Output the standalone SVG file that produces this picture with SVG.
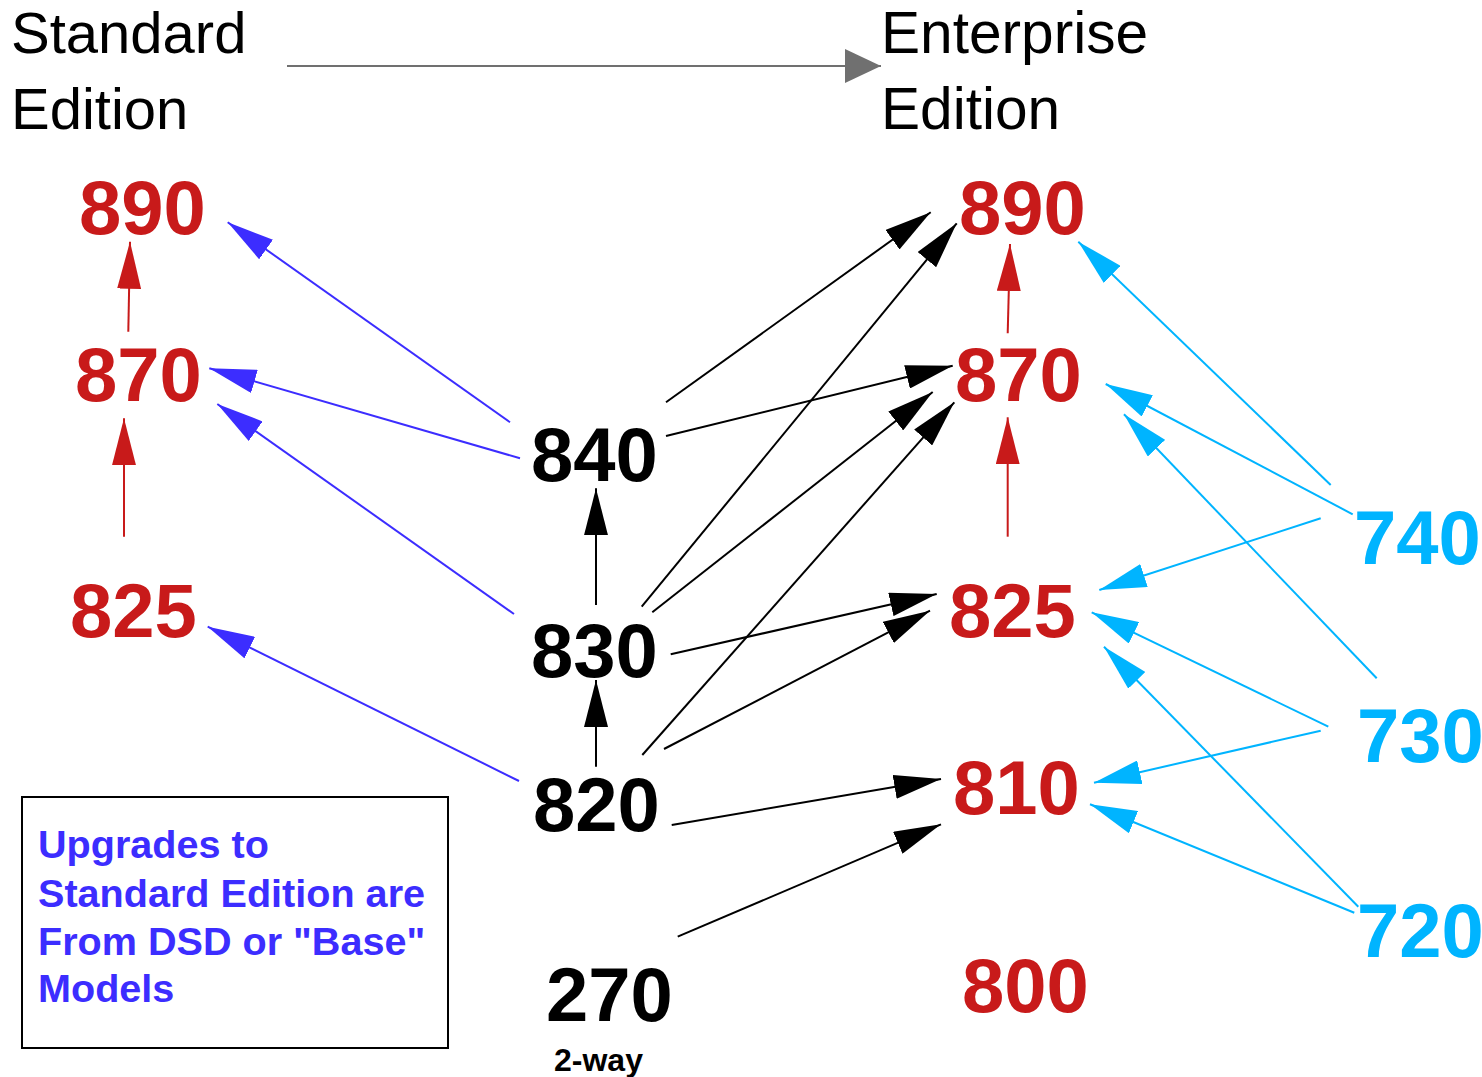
<svg xmlns="http://www.w3.org/2000/svg" width="1482" height="1077" viewBox="0 0 1482 1077">
<style>
.hdr{font-family:"Liberation Sans",Arial,sans-serif;font-size:58px;fill:#000}
.hdr2{font-family:"Liberation Sans",Arial,sans-serif;font-size:58.6px;fill:#000}
.num{font-family:"Liberation Sans",Arial,sans-serif;font-weight:bold;font-size:76px}
.red{fill:#c81a1a}
.blk{fill:#000}
.cyn{fill:#00b4ff}
.note{font-family:"Liberation Sans",Arial,sans-serif;font-weight:bold;font-size:39.6px;fill:#3c2dff}
.small{font-family:"Liberation Sans",Arial,sans-serif;font-weight:bold;font-size:32px;fill:#000}
.ck{stroke:#000;stroke-width:2;fill:none;marker-end:url(#ak)}
.cb{stroke:#3c2dff;stroke-width:2;fill:none;marker-end:url(#ab)}
.cr{stroke:#c81a1a;stroke-width:2;fill:none;marker-end:url(#ar)}
.cc{stroke:#00b4ff;stroke-width:2;fill:none;marker-end:url(#ac)}
.cg{stroke:#707070;stroke-width:2;fill:none;marker-end:url(#ag)}
</style>
<defs>
<marker id="ak" markerUnits="userSpaceOnUse" viewBox="0 0 48 24" markerWidth="48" markerHeight="24" refX="47" refY="12" orient="auto"><path d="M0,0 L47,12 L0,24 z" fill="#000"/></marker>
<marker id="ab" markerUnits="userSpaceOnUse" viewBox="0 0 48 24" markerWidth="48" markerHeight="24" refX="47" refY="12" orient="auto"><path d="M0,0 L47,12 L0,24 z" fill="#3c2dff"/></marker>
<marker id="ar" markerUnits="userSpaceOnUse" viewBox="0 0 48 24" markerWidth="48" markerHeight="24" refX="47" refY="12" orient="auto"><path d="M0,0 L47,12 L0,24 z" fill="#c81a1a"/></marker>
<marker id="ac" markerUnits="userSpaceOnUse" viewBox="0 0 48 24" markerWidth="48" markerHeight="24" refX="47" refY="12" orient="auto"><path d="M0,0 L47,12 L0,24 z" fill="#00b4ff"/></marker>
<marker id="ag" markerUnits="userSpaceOnUse" viewBox="0 0 36 34" markerWidth="36" markerHeight="34" refX="36" refY="17" orient="auto"><path d="M0,0 L36,17 L0,34 z" fill="#707070"/></marker>
</defs>
<rect width="1482" height="1077" fill="#fff"/>

<g id="connectors">
<line class="cg" x1="287" y1="66" x2="881" y2="66"/>
<line class="cr" x1="128.3" y1="331.7" x2="130" y2="241.7"/>
<line class="cr" x1="124" y1="536.7" x2="124" y2="418.3"/>
<line class="cb" x1="510" y1="422.3" x2="227.7" y2="222.3"/>
<line class="cb" x1="520" y1="458.3" x2="209.3" y2="368.3"/>
<line class="cb" x1="514" y1="614" x2="217.3" y2="404"/>
<line class="cb" x1="519" y1="781" x2="207.7" y2="626.7"/>
<line class="ck" x1="596" y1="605" x2="596" y2="488.3"/>
<line class="ck" x1="596" y1="766.7" x2="596" y2="680"/>
<line class="ck" x1="666" y1="402.3" x2="930.7" y2="212.3"/>
<line class="ck" x1="641.7" y1="606.7" x2="956.7" y2="223.3"/>
<line class="ck" x1="666" y1="436" x2="952.7" y2="365.7"/>
<line class="ck" x1="652.3" y1="612.3" x2="932.7" y2="392"/>
<line class="ck" x1="642.3" y1="755" x2="954.3" y2="402.3"/>
<line class="ck" x1="670.7" y1="654.3" x2="936.7" y2="594"/>
<line class="ck" x1="664" y1="749" x2="930" y2="610.7"/>
<line class="ck" x1="671.7" y1="825" x2="941" y2="779"/>
<line class="ck" x1="677.7" y1="936.7" x2="941" y2="824.3"/>
<line class="cr" x1="1007.7" y1="333.3" x2="1010" y2="244"/>
<line class="cr" x1="1007.7" y1="536.7" x2="1007.7" y2="417.3"/>
<line class="cc" x1="1330.7" y1="485" x2="1078.3" y2="241.7"/>
<line class="cc" x1="1352.7" y1="514.3" x2="1105.7" y2="384"/>
<line class="cc" x1="1376.7" y1="678.3" x2="1124" y2="414.3"/>
<line class="cc" x1="1320.7" y1="518.3" x2="1099.3" y2="590"/>
<line class="cc" x1="1328.3" y1="726.7" x2="1091.7" y2="612.3"/>
<line class="cc" x1="1358.3" y1="906.7" x2="1104" y2="646.7"/>
<line class="cc" x1="1320.7" y1="730.7" x2="1094" y2="782.7"/>
<line class="cc" x1="1354.3" y1="912.7" x2="1090" y2="804.3"/>
</g>

<g id="hdr-standard"><text class="hdr" x="11" y="53">Standard</text><text class="hdr" x="11" y="129">Edition</text></g>
<g id="hdr-enterprise"><text class="hdr2" x="881" y="53">Enterprise</text><text class="hdr2" x="881" y="129">Edition</text></g>

<g id="std-890"><text class="num red" x="79" y="234">890</text></g>
<g id="std-870"><text class="num red" x="75" y="401">870</text></g>
<g id="std-825"><text class="num red" x="70" y="637">825</text></g>

<g id="m-840"><text class="num blk" x="531" y="481">840</text></g>
<g id="m-830"><text class="num blk" x="531" y="677">830</text></g>
<g id="m-820"><text class="num blk" x="533" y="831">820</text></g>
<g id="m-270"><text class="num blk" x="546" y="1021">270</text><text class="small" x="554" y="1071">2-way</text></g>

<g id="ent-890"><text class="num red" x="959" y="234">890</text></g>
<g id="ent-870"><text class="num red" x="955" y="401">870</text></g>
<g id="ent-825"><text class="num red" x="949" y="637">825</text></g>
<g id="ent-810"><text class="num red" x="953" y="814">810</text></g>
<g id="ent-800"><text class="num red" x="962" y="1012">800</text></g>

<g id="c-740"><text class="num cyn" x="1354" y="564">740</text></g>
<g id="c-730"><text class="num cyn" x="1357" y="762">730</text></g>
<g id="c-720"><text class="num cyn" x="1357" y="957">720</text></g>

<g id="note">
<rect x="22" y="797" width="426" height="251" fill="#fff" stroke="#000" stroke-width="2"/>
<text class="note" x="38" y="858">Upgrades to</text>
<text class="note" x="38" y="907">Standard Edition are</text>
<text class="note" x="38" y="955">From DSD or "Base"</text>
<text class="note" x="38" y="1002">Models</text>
</g>
</svg>
